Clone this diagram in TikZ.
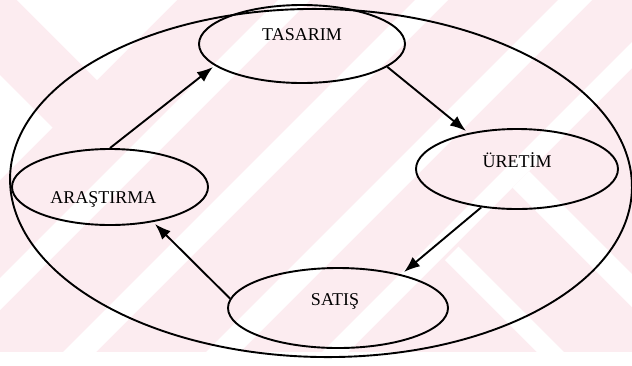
\documentclass[tikz,border=0pt]{standalone}
\usepackage{fontspec}
\setmainfont{Liberation Serif}
\usetikzlibrary{shapes.geometric,arrows.meta}
\definecolor{wmpink}{RGB}{252,236,240}
\begin{document}
\begin{tikzpicture}[x=1pt,y=-1pt,
  stage/.style={draw=black,line width=1.9pt,ellipse,inner sep=0pt},
  lbl/.style={font=\fontsize{18}{21}\selectfont,anchor=base,inner sep=0pt},
  flow/.style={line width=1.9pt,-{Latex[length=16pt,width=12pt]}}]
\useasboundingbox (0,0) rectangle (632,365);

% striped watermark background
\begin{scope}
  \clip (0,0) rectangle (632,352);
  \fill[wmpink] (0,0) rectangle (632,352);
  \fill[white] (17,0) -- (177,0) -- (97,80) -- cycle;
  \fill[white] (0,75) -- (52.5,127.5) -- (0,180) -- cycle;
  \fill[white] (278,0) -- (310,0) -- (-42,352) -- (-74,352) -- cycle;
  \fill[white] (415,0) -- (448,0) -- (96,352) -- (63,352) -- cycle;
  \fill[white] (558,0) -- (592,0) -- (240,352) -- (206,352) -- cycle;
  \fill[white] (674,0) -- (700,0) -- (348,352) -- (322,352) -- cycle;
  \fill[white] (512.5,187.5) -- (529,171) -- (710,352) -- (677,352) -- cycle;
  \fill[white] (445,260) -- (458.5,246.5) -- (564,352) -- (537,352) -- cycle;
\end{scope}

% the enclosing cycle
\node[stage,minimum width=622pt,minimum height=348pt,rotate=-1] (loop) at (321,183) {};

% the four stages
\node[stage,minimum width=206pt,minimum height=78pt] (ta) at (302,44) {};
\node[stage,minimum width=202pt,minimum height=80pt] (ur) at (517,169) {};
\node[stage,minimum width=220pt,minimum height=80pt] (sa) at (338,308) {};
\node[stage,minimum width=196pt,minimum height=76pt] (ar) at (110,187) {};

\node[lbl] (taT) at (302,40) {TASARIM};
\node[lbl] (urT) at (517,167) {ÜRETİM};
\node[lbl] (saT) at (335,305) {SATIŞ};
\node[lbl] (arT) at (103.5,203) {ARAŞTIRMA};

% arrow tips
\coordinate (p1) at (213,67);
\coordinate (p2) at (466,131);
\coordinate (p3) at (404,272);
\coordinate (p4) at (155,224);

\draw[flow] (ar.north) -- (p1);
\draw[flow] (ta.-15) -- (p2);
\draw[flow] (ur.-133) -- (p3);
\draw[flow] (sa.175) -- (p4);
\end{tikzpicture}
\end{document}
